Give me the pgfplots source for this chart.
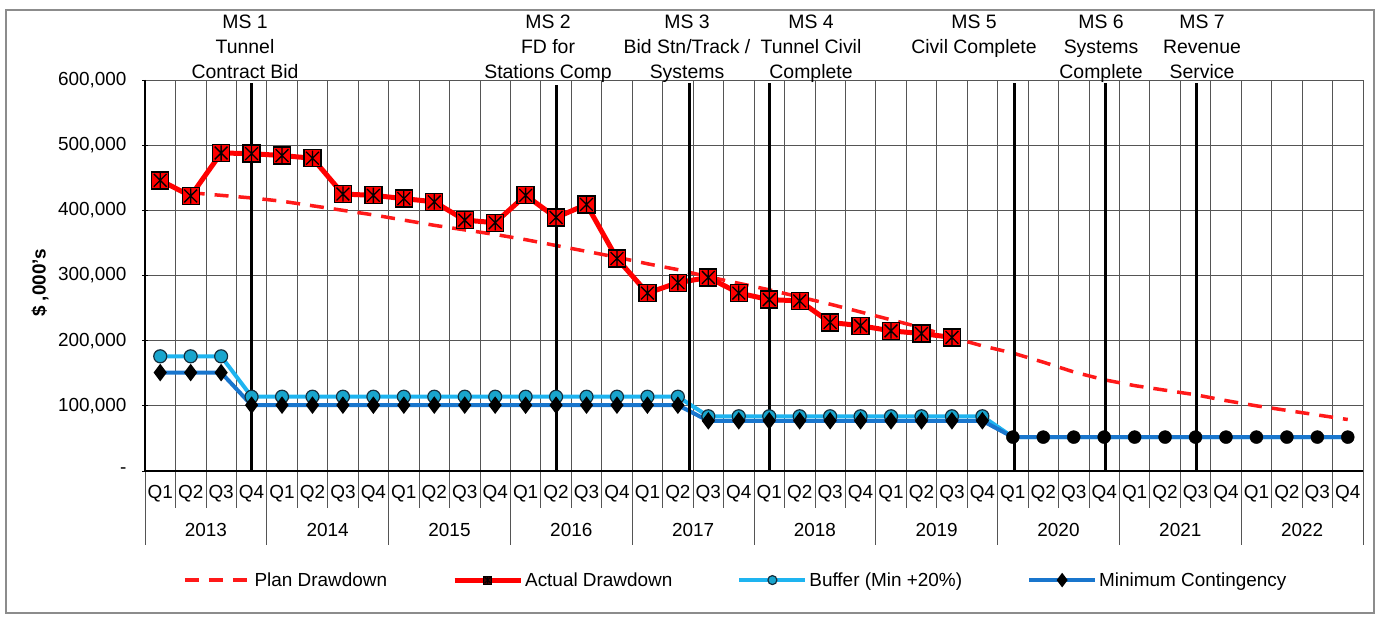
\documentclass[border=0pt]{standalone}
\usepackage{fontspec}
\setmainfont{Liberation Sans}
\usepackage{pgfplots}
\pgfplotsset{compat=1.18}

\definecolor{planred}{RGB}{255,25,25}
\definecolor{actred}{RGB}{255,0,0}
\definecolor{bufblue}{RGB}{30,180,240}
\definecolor{buffill}{RGB}{25,165,205}
\definecolor{bufedge}{RGB}{20,45,60}
\definecolor{minblue}{RGB}{25,118,205}
\definecolor{gridgray}{RGB}{85,85,85}

\newcommand\chartfont{\fontsize{19}{23}\selectfont}
\newcommand\msfont{\fontsize{19.5}{25}\selectfont}

% red square with a black star on it
\pgfdeclareplotmark{sqstar}{%
  \pgfpathrectangle{\pgfqpoint{-\pgfplotmarksize}{-\pgfplotmarksize}}{\pgfqpoint{2\pgfplotmarksize}{2\pgfplotmarksize}}%
  \pgfusepathqfillstroke
  \pgfpathmoveto{\pgfqpoint{-.75\pgfplotmarksize}{-.75\pgfplotmarksize}}%
  \pgfpathlineto{\pgfqpoint{.75\pgfplotmarksize}{.75\pgfplotmarksize}}%
  \pgfpathmoveto{\pgfqpoint{-.75\pgfplotmarksize}{.75\pgfplotmarksize}}%
  \pgfpathlineto{\pgfqpoint{.75\pgfplotmarksize}{-.75\pgfplotmarksize}}%
  \pgfpathmoveto{\pgfqpoint{0pt}{-.9\pgfplotmarksize}}%
  \pgfpathlineto{\pgfqpoint{0pt}{.9\pgfplotmarksize}}%
  \pgfusepathqstroke
}

\begin{document}
\begin{tikzpicture}[x=1bp,y=1bp]
\begin{axis}[
  at={(145bp,146bp)}, anchor=south west,
  scale only axis, width=1218bp, height=391bp,
  xmin=-0.5, xmax=39.5, ymin=0, ymax=600000,
  xtick={0,...,39},
  xticklabels={Q1,Q2,Q3,Q4,Q1,Q2,Q3,Q4,Q1,Q2,Q3,Q4,Q1,Q2,Q3,Q4,Q1,Q2,Q3,Q4,
               Q1,Q2,Q3,Q4,Q1,Q2,Q3,Q4,Q1,Q2,Q3,Q4,Q1,Q2,Q3,Q4,Q1,Q2,Q3,Q4},
  xtick style={draw=none},
  minor xtick={-0.5,0.5,...,39.5},
  xminorgrids=true, xmajorgrids=false, ymajorgrids=true,
  minor grid style={gridgray, line width=0.8bp},
  major grid style={gridgray, line width=0.8bp},
  ytick={0,100000,200000,300000,400000,500000,600000},
  yticklabels={{-},{100,000},{200,000},{300,000},{400,000},{500,000},{600,000}},
  scaled y ticks=false,
  ytick style={black, line width=0.8bp},
  tick align=center, major tick length=6bp,
  xtick pos=bottom, ytick pos=left,
  axis line style={gridgray, line width=0.8bp},
  tick label style={font=\chartfont},
  xticklabel style={yshift=-8bp},
  yticklabel style={xshift=-12bp},
  clip=false,
  legend columns=4,
  legend cell align=left,
  legend style={at={(0.485,-0.279)}, anchor=center, draw=none, fill=none,
    font=\chartfont, /tikz/every even column/.append style={column sep=63bp}},
  legend image code/.code={\draw[mark repeat=2,mark phase=2,#1]
    plot coordinates {(0bp,0bp)(33bp,0bp)(66bp,0bp)};},
]

% legend entries
\addlegendimage{planred, line width=3.5bp, dash pattern=on 14bp off 10bp}
\addlegendentry{Plan Drawdown}
\addlegendimage{actred, line width=5bp, mark=sqstar, mark size=4bp,
  mark options={solid, fill=black!75!red, draw=black, line width=1bp}}
\addlegendentry{Actual Drawdown}
\addlegendimage{bufblue, line width=4bp, mark=*, mark size=4.5bp,
  mark options={fill=buffill, draw=bufedge, line width=1.2bp}}
\addlegendentry{Buffer (Min +20\%)}
\addlegendimage{minblue, line width=4bp, mark=diamond*, mark size=4bp,
  mark options={fill=black, draw=black}}
\addlegendentry{Minimum Contingency}

% plan drawdown
\addplot[forget plot, planred, line width=3.5bp, dash pattern=on 14bp off 10bp] coordinates {
 (1,427000) (2,423000) (3,419000) (4,414000) (5,407000) (6,400000) (7,393000)
 (8,385000) (9,377000) (10,370000) (11,363000) (12,355000) (13,346000)
 (14,337000) (15,328000) (16,318000) (17,309000) (18,298000) (19,288000)
 (20,278000) (21,267000) (22,256000) (23,244000) (24,232000) (25,220000)
 (26,205000) (27,192000) (28,181000) (29,167000) (30,152000) (31,140000)
 (32,131000) (33,124000) (34,117000) (35,108000) (36,100000) (37,93000)
 (38,86000) (39,79000)
};

% actual drawdown
\addplot[forget plot, actred, line width=5bp, mark=sqstar, mark size=8.5bp,
  mark options={solid, fill=actred, draw=black, line width=1.3bp}] coordinates {
 (0,446000) (1,422000) (2,488000) (3,487000) (4,484000) (5,480000) (6,425000)
 (7,423000) (8,418000) (9,413000) (10,385000) (11,381000) (12,423000)
 (13,389000) (14,409000) (15,326000) (16,273000) (17,289000) (18,297000)
 (19,273000) (20,263000) (21,261000) (22,228000) (23,223000) (24,215000)
 (25,211000) (26,205000)
};

% buffer (min + 20%)
\addplot[forget plot, bufblue, line width=4bp, mark=*, mark size=6.5bp,
  mark indices={1,...,28},
  mark options={fill=buffill, draw=bufedge, line width=1.2bp}] coordinates {
 (0,176000) (1,176000) (2,176000) (3,114000) (4,114000) (5,114000) (6,114000)
 (7,114000) (8,114000) (9,114000) (10,114000) (11,114000) (12,114000)
 (13,114000) (14,114000) (15,114000) (16,114000) (17,114000) (18,84000)
 (19,84000) (20,84000) (21,84000) (22,84000) (23,84000) (24,84000) (25,84000)
 (26,84000) (27,84000) (28,52000) (29,52000) (30,52000) (31,52000) (32,52000)
 (33,52000) (34,52000) (35,52000) (36,52000) (37,52000) (38,52000) (39,52000)
};

% minimum contingency
\addplot[forget plot, minblue, line width=4bp, mark=diamond*, mark size=5.5bp,
  mark indices={1,...,28},
  mark options={fill=black, draw=black}] coordinates {
 (0,151000) (1,151000) (2,151000) (3,101000) (4,101000) (5,101000) (6,101000)
 (7,101000) (8,101000) (9,101000) (10,101000) (11,101000) (12,101000)
 (13,101000) (14,101000) (15,101000) (16,101000) (17,101000) (18,77000)
 (19,77000) (20,77000) (21,77000) (22,77000) (23,77000) (24,77000) (25,77000)
 (26,77000) (27,77000) (28,52000) (29,52000) (30,52000) (31,52000) (32,52000)
 (33,52000) (34,52000) (35,52000) (36,52000) (37,52000) (38,52000) (39,52000)
};
\addplot[forget plot, only marks, mark=*, mark size=6.5bp, mark options={fill=black, draw=black}]
 coordinates {(28,52000) (29,52000) (30,52000) (31,52000) (32,52000) (33,52000)
 (34,52000) (35,52000) (36,52000) (37,52000) (38,52000) (39,52000)};

% milestone markers
\addplot[forget plot, black, line width=3bp] coordinates {(3,0) (3,596000)};
\addplot[forget plot, black, line width=3bp] coordinates {(13,0) (13,593000)};
\addplot[forget plot, black, line width=3bp] coordinates {(17.37,0) (17.37,596000)};
\addplot[forget plot, black, line width=3bp] coordinates {(20,0) (20,596000)};
\addplot[forget plot, black, line width=3bp] coordinates {(28.07,0) (28.07,596000)};
\addplot[forget plot, black, line width=3bp] coordinates {(31.03,0) (31.03,596000)};
\addplot[forget plot, black, line width=3bp] coordinates {(34.02,0) (34.02,596000)};

% quarter and year separators below the axis
\pgfplotsinvokeforeach{-0.5,0.5,...,39.5}{
  \draw[gridgray, line width=0.8bp] (axis cs:#1,0) -- ++(0bp,-37bp);
}
\pgfplotsinvokeforeach{-0.5,3.5,...,39.5}{
  \draw[gridgray, line width=0.8bp] (axis cs:#1,0) -- ++(0bp,-74bp);
}

% years
\node[font=\chartfont] at (axis cs:1.5,0) [yshift=-59bp] {2013};
\node[font=\chartfont] at (axis cs:5.5,0) [yshift=-59bp] {2014};
\node[font=\chartfont] at (axis cs:9.5,0) [yshift=-59bp] {2015};
\node[font=\chartfont] at (axis cs:13.5,0) [yshift=-59bp] {2016};
\node[font=\chartfont] at (axis cs:17.5,0) [yshift=-59bp] {2017};
\node[font=\chartfont] at (axis cs:21.5,0) [yshift=-59bp] {2018};
\node[font=\chartfont] at (axis cs:25.5,0) [yshift=-59bp] {2019};
\node[font=\chartfont] at (axis cs:29.5,0) [yshift=-59bp] {2020};
\node[font=\chartfont] at (axis cs:33.5,0) [yshift=-59bp] {2021};
\node[font=\chartfont] at (axis cs:37.5,0) [yshift=-59bp] {2022};

% heavy left and bottom axis lines
\draw[black, line width=2.5bp] (axis cs:-0.5,600000) -- (axis cs:-0.5,0) -- (axis cs:39.5,0);
\end{axis}

% milestone captions
\tikzset{ms/.style={align=center, font=\msfont, anchor=north}}
\node[ms] at (245,609) {\strut MS 1\\Tunnel\\Contract Bid};
\node[ms] at (548,609) {\strut MS 2\\FD for\\Stations Comp};
\node[ms] at (687,609) {\strut MS 3\\Bid Stn/Track /\\Systems};
\node[ms] at (811,609) {\strut MS 4\\Tunnel Civil\\Complete};
\node[ms] at (974,609) {\strut MS 5\\Civil Complete};
\node[ms] at (1101,609) {\strut MS 6\\Systems\\Complete};
\node[ms] at (1202,609) {\strut MS 7\\Revenue\\Service};

% y axis title
\node[rotate=90, font=\chartfont\bfseries] at (40,334) {\$ ,000's};

% outer frame and page size
\draw[black!45, line width=1.2bp] (6,4) rectangle (1374,607);
\pgfresetboundingbox
\path[use as bounding box] (0,0) rectangle (1378,617);
\end{tikzpicture}
\end{document}
